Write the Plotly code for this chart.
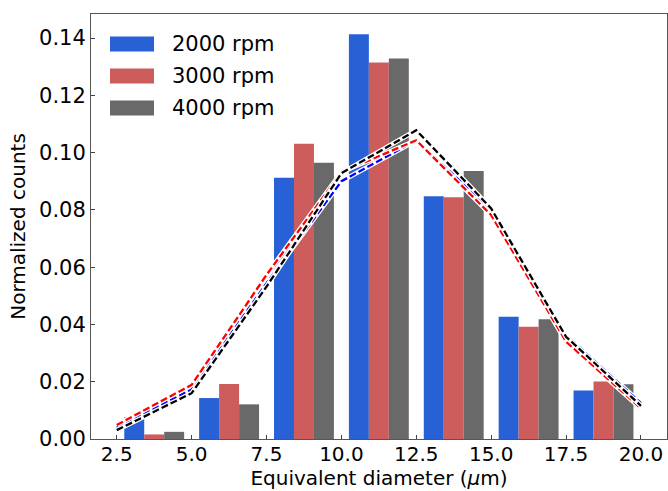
import plotly.graph_objects as go

# ---- data ----
bin_centers = [3.75, 6.25, 8.75, 11.25, 13.75, 16.25, 18.75]
counts_2000 = [0.0076, 0.0143, 0.0912, 0.1413, 0.0848, 0.0427, 0.0169]
counts_3000 = [0.0016, 0.0192, 0.1031, 0.1315, 0.0844, 0.0392, 0.0201]
counts_4000 = [0.0025, 0.0121, 0.0965, 0.1329, 0.0936, 0.0418, 0.0191]

fit_x = [2.5, 5.0, 7.5, 10.0, 12.5, 15.0, 17.5, 20.0]
fit_2000 = [0.0040, 0.0173, 0.0544, 0.0900, 0.1043, 0.0800, 0.0362, 0.0125]
fit_3000 = [0.0049, 0.0189, 0.0573, 0.0932, 0.1043, 0.0782, 0.0340, 0.0107]
fit_4000 = [0.0031, 0.0160, 0.0532, 0.0928, 0.1078, 0.0805, 0.0357, 0.0116]

labels = ["2000 rpm", "3000 rpm", "4000 rpm"]
x_ticks = [2.5, 5.0, 7.5, 10.0, 12.5, 15.0, 17.5, 20.0]
y_ticks = [0.00, 0.02, 0.04, 0.06, 0.08, 0.10, 0.12, 0.14]

bar_colors = ["#2761D5", "#CD5C5C", "#696969"]
line_colors = ["#0000FF", "#FF0000", "#000000"]

FONT = "DejaVu Sans"

fig = go.Figure()
for vals, name, col in zip([counts_2000, counts_3000, counts_4000], labels, bar_colors):
    fig.add_trace(go.Bar(x=bin_centers, y=vals, name=name, marker=dict(color=col, line=dict(width=0)),
                         showlegend=False))

for vals, col in zip([fit_2000, fit_3000, fit_4000], line_colors):
    fig.add_trace(go.Scatter(x=fit_x, y=vals, mode="lines", line=dict(color="white", width=4.8),
                             showlegend=False, hoverinfo="skip"))
    fig.add_trace(go.Scatter(x=fit_x, y=vals, mode="lines", line=dict(color=col, width=2.3, dash="7px,3px"),
                             showlegend=False))

# manual legend (matplotlib-style wide patches)
W, H = 668, 491
ml, mr, mt, mb = 91, 1, 14, 52
pw, ph = W - ml - mr, H - mt - mb

def px(x):
    return (x - ml) / pw

def py(y):
    return (H - mb - y) / ph

row_y = [44, 76, 108]
for yy, name, col in zip(row_y, labels, bar_colors):
    fig.add_shape(type="rect", xref="paper", yref="paper",
                  x0=px(110), x1=px(154), y0=py(yy + 7.5), y1=py(yy - 7.5),
                  fillcolor=col, line=dict(width=0))
    fig.add_annotation(xref="paper", yref="paper", x=px(170), y=py(yy), text=name,
                       showarrow=False, xanchor="left", yanchor="middle",
                       font=dict(family=FONT, size=21, color="black"))

fig.update_layout(
    width=W, height=H,
    margin=dict(l=ml, r=mr, t=mt, b=mb),
    paper_bgcolor="white", plot_bgcolor="white",
    barmode="group", bargap=0.2, bargroupgap=0,
    font=dict(family=FONT, size=21, color="black"),
)
fig.update_xaxes(range=[1.64, 20.87], tickvals=x_ticks, ticktext=[f"{v:.1f}" for v in x_ticks],
                 ticks="inside", ticklen=4, tickcolor="#444", showgrid=False, zeroline=False,
                 showline=True, linecolor="#555", linewidth=1, mirror=True,
                 ticklabelstandoff=-3,
                 title=dict(text="Equivalent diameter (<i>μ</i>m)", standoff=2,
                            font=dict(family=FONT, size=20)),
                 automargin=False, tickfont=dict(family=FONT, size=20))
fig.update_yaxes(range=[0, 0.1484], tickvals=y_ticks, ticktext=[f"{v:.2f}" for v in y_ticks],
                 ticks="inside", ticklen=4, tickcolor="#444", showgrid=False, zeroline=False,
                 showline=True, linecolor="#555", linewidth=1, mirror=True,
                 title=dict(text="Normalized counts", standoff=8, font=dict(family=FONT, size=20)),
                 automargin=False, tickfont=dict(family=FONT, size=21))

fig.write_html("out.html", config={"displayModeBar": False},
               post_script="document.body.style.margin='0';document.body.style.overflow='hidden';")
